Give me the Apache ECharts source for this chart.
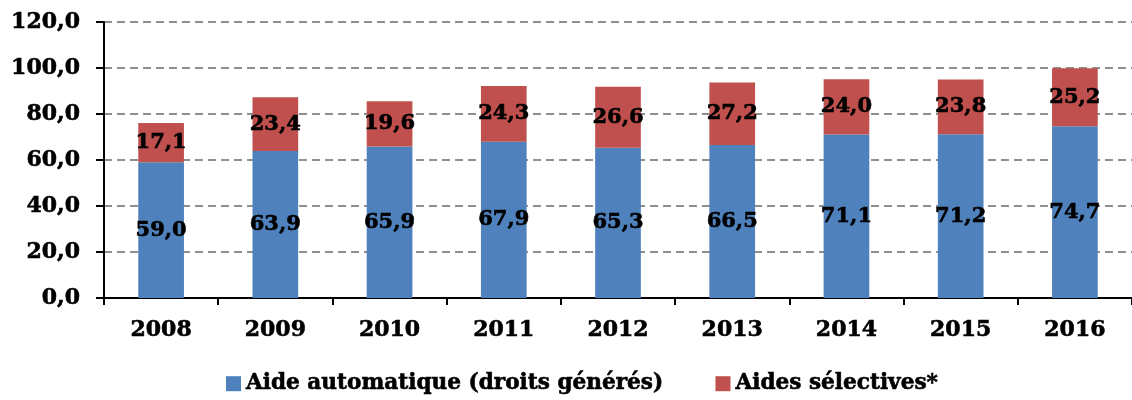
<!DOCTYPE html>
<html>
<head>
<meta charset="utf-8">
<script src="https://cdn.jsdelivr.net/npm/echarts@6/dist/echarts.min.js"></script>
<style>
  html, body { margin: 0; padding: 0; background: #fff; }
  #chart { width: 1132px; height: 400px; }
</style>
</head>
<body>
<div id="chart"></div>
<script>
// data
var years = ["2008", "2009", "2010", "2011", "2012", "2013", "2014", "2015", "2016"];
var aideAuto = [59.0, 63.9, 65.9, 67.9, 65.3, 66.5, 71.1, 71.2, 74.7];
var aidesSel = [17.1, 23.4, 19.6, 24.3, 26.6, 27.2, 24.0, 23.8, 25.2];

var FONT = "'DejaVu Serif', serif";

function fr(v) {
  return Number(v).toFixed(1).replace(".", ",");
}

// bold text, a bit heavier (thin outline in same colour)
function heavy(size, extra) {
  var s = {
    fontFamily: FONT,
    fontWeight: "bold",
    fontSize: size,
    color: "#000",
    textBorderColor: "#000",
    textBorderWidth: 0.6
  };
  return Object.assign(s, extra || {});
}

var chart = echarts.init(document.getElementById("chart"));

var labelStyle = heavy(21, {
  show: true,
  position: "inside",
  formatter: function (p) { return fr(p.value); }
});

chart.setOption({
  animation: false,
  textStyle: { fontFamily: FONT },
  grid: { left: 104, right: 0, top: 22, bottom: 102 },
  legend: {
    bottom: 0,
    left: 221,
    icon: "rect",
    itemWidth: 15,
    itemHeight: 15,
    itemGap: 52,
    textStyle: heavy(21.6),
    data: ["Aide automatique (droits générés)", "Aides sélectives*"]
  },
  xAxis: {
    type: "category",
    data: years,
    axisLine: { lineStyle: { color: "#000", width: 2 } },
    axisTick: { show: true, length: 7, lineStyle: { color: "#000", width: 2 } },
    axisLabel: heavy(22, { margin: 21 })
  },
  yAxis: {
    type: "value",
    min: 0,
    max: 120,
    interval: 20,
    axisLine: { show: true, lineStyle: { color: "#000", width: 2 } },
    axisTick: { show: true, length: 8, lineStyle: { color: "#000", width: 2 } },
    axisLabel: heavy(22, {
      margin: 24,
      formatter: function (v) { return fr(v); }
    }),
    splitLine: { lineStyle: { color: "#8f8f8f", width: 2, type: [8, 5] } }
  },
  series: [
    {
      name: "Aide automatique (droits générés)",
      type: "bar",
      stack: "total",
      barWidth: "40%",
      itemStyle: { color: "#4F81BD" },
      label: labelStyle,
      data: aideAuto
    },
    {
      name: "Aides sélectives*",
      type: "bar",
      stack: "total",
      barWidth: "40%",
      itemStyle: { color: "#C0504D" },
      label: labelStyle,
      data: aidesSel
    }
  ]
});
</script>
</body>
</html>
